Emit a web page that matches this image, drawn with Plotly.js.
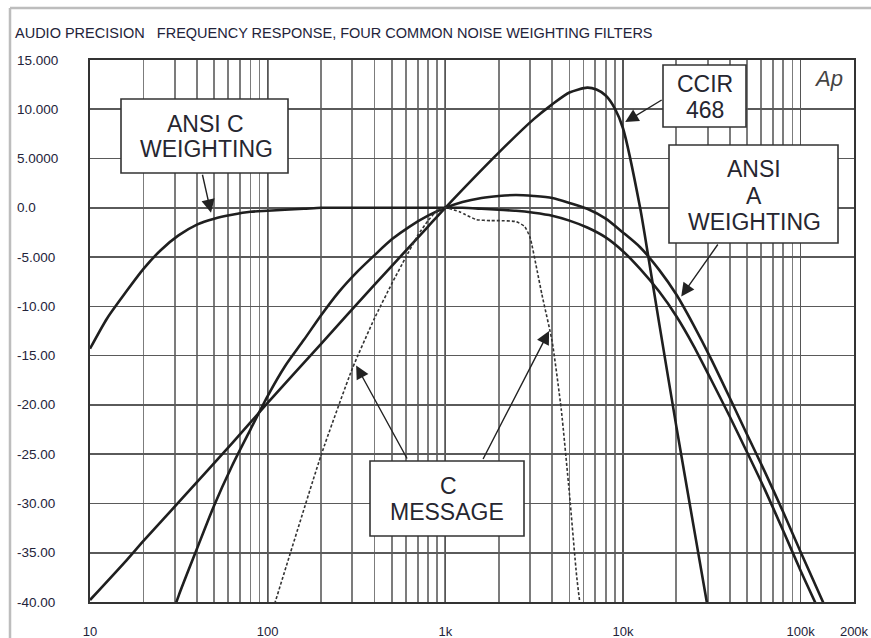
<!DOCTYPE html>
<html>
<head>
<meta charset="utf-8">
<script src="https://cdn.plot.ly/plotly-3.0.1.min.js"></script>
<style>html,body{margin:0;padding:0;background:#fff;overflow:hidden;}#chart{width:871px;height:638px;}</style>
</head>
<body>
<div id="chart"></div>
<script>
// ---------- data ----------
const cFreq = [10,12.5,16,20,25,31.5,40,50,63,80,100,125,160,200,250,315,400,500,630,800,1000,1250,1600,2000,2500,3150,4000,5000,6300,8000,10000,12500,16000,20000,25000,31500,40000,50000,63000,80000,100000,125000];
const cWeight = [-14.3,-11.2,-8.5,-6.2,-4.3,-2.8,-1.7,-1.1,-0.7,-0.4,-0.3,-0.2,-0.1,0,0,0,0,0,0,0,0,0,-0.1,-0.2,-0.3,-0.5,-0.8,-1.3,-2.0,-3.0,-4.4,-6.2,-8.5,-11.0,-14.0,-17.5,-21.2,-24.8,-28.6,-32.8,-36.8,-40.6];

const aFreq = [25,31.5,40,50,63,80,100,125,160,200,250,315,400,500,630,800,1000,1250,1600,2000,2500,3150,4000,5000,6300,8000,10000,12500,16000,20000,25000,31500,40000,50000,63000,80000,100000,125000,140000];
const aWeight = [-44.7,-39.4,-34.6,-30.2,-26.2,-22.5,-19.1,-16.1,-13.4,-10.9,-8.6,-6.6,-4.8,-3.2,-1.9,-0.8,0,0.6,1.0,1.2,1.3,1.2,1.0,0.5,-0.1,-1.1,-2.5,-4.0,-6.3,-8.8,-11.9,-15.4,-19.3,-23.0,-26.8,-30.9,-34.9,-38.8,-40.8];

const ccirFreq = [10,16,20,31.5,63,100,200,400,800,1000,2000,3150,4000,5000,6300,7100,8000,9000,10000,12500,14000,16000,20000,25000,31500];
const ccirWeight = [-39.8,-35.8,-33.8,-29.9,-23.9,-19.8,-13.8,-7.8,-1.9,0,5.6,9.0,10.5,11.7,12.2,12.0,11.4,10.1,8.1,0,-5.3,-11.7,-22.2,-32.3,-42.7];

const cmFreq = [60,100,200,300,400,500,600,700,800,900,1000,1200,1300,1500,1800,2000,2500,2800,3000,3300,3500,4000,4500,5000,5500,6000];
const cmWeight = [-55.7,-42.5,-25.1,-16.3,-11.2,-7.7,-5.0,-2.8,-1.3,-0.3,0,-0.4,-0.7,-1.2,-1.3,-1.3,-1.4,-1.9,-3.0,-6.5,-8.8,-13.6,-20.5,-29.0,-37.5,-43.0];

const xTickVals = [10,100,1000,10000,100000,200000];
const xTickText = ["10","100","1k","10k","100k","200k"];
const yTickVals = [15,10,5,0,-5,-10,-15,-20,-25,-30,-35,-40];
const yTickText = ["15.000","10.000","5.0000","0.0","-5.000","-10.00","-15.00","-20.00","-25.00","-30.00","-35.00","-40.00"];

const titleText = "AUDIO PRECISION\u00a0\u00a0\u00a0FREQUENCY RESPONSE, FOUR COMMON NOISE WEIGHTING FILTERS";

// ---------- layout helpers (pixel -> paper) ----------
const L = 90, R = 854, T = 60, B = 602;
const px = X => (X - L) / (R - L);
const py = Y => (B - Y) / (B - T);
const FONT = "Liberation Sans, Arial, sans-serif";

const curveLine = {color: "#1f1f1f", width: 2.6, shape: "spline", smoothing: 0.7};
const traces = [
  {x: cFreq, y: cWeight, name: "ANSI C", mode: "lines", line: curveLine},
  {x: aFreq, y: aWeight, name: "ANSI A", mode: "lines", line: curveLine},
  {x: ccirFreq, y: ccirWeight, name: "CCIR 468", mode: "lines", line: curveLine},
  {x: cmFreq, y: cmWeight, name: "C MESSAGE", mode: "lines",
   line: {color: "#333", width: 1.6, dash: "3px,2px", shape: "spline", smoothing: 0.5}}
];

// boxes (pixel rectangles) and text lines
const boxes = [
  [121, 99, 288, 173],
  [663, 65, 746, 127],
  [669, 145, 838, 243],
  [370, 461, 524, 536]
];
const boxLines = [
  ["ANSI C", 205, 124],
  ["WEIGHTING", 206, 149],
  ["CCIR", 705, 84],
  ["468", 705, 110],
  ["ANSI", 754, 169],
  ["A", 754, 196],
  ["WEIGHTING", 754, 222],
  ["C", 448, 486],
  ["MESSAGE", 447, 512]
];
// arrows: tip frequency, tip dB, tail offset in px
const arrows = [
  [48, -0.5, -9, -40],
  [10300, 8.7, 38, -23],
  [21300, -9.0, 38, -54],
  [315, -16.0, 52, 95],
  [3840, -12.5, -67, 130]
];

const shapes = boxes.map(b => ({
  type: "rect", xref: "paper", yref: "paper",
  x0: px(b[0]), x1: px(b[2]), y0: py(b[3]), y1: py(b[1]),
  fillcolor: "#fff", line: {color: "#333", width: 1.6}, layer: "above"
}));
// outer light frame: top and left edges only
shapes.push({type: "line", xref: "paper", yref: "paper",
  x0: px(10), x1: px(871), y0: py(8), y1: py(8),
  line: {color: "#bdbdbd", width: 2.5}, layer: "below"});
shapes.push({type: "line", xref: "paper", yref: "paper",
  x0: px(10), x1: px(10), y0: py(8), y1: py(638),
  line: {color: "#bdbdbd", width: 2.5}, layer: "below"});

const annotations = [];
boxLines.forEach(l => annotations.push({
  text: l[0], xref: "paper", yref: "paper", x: px(l[1]), y: py(l[2]),
  xanchor: "center", yanchor: "middle", showarrow: false,
  font: {family: FONT, size: 23, color: "#262630"}
}));
arrows.forEach(a => annotations.push({
  xref: "x", yref: "y", x: Math.log10(a[0]), y: a[1], ax: a[2], ay: a[3],
  showarrow: true, arrowhead: 2, arrowsize: 1.9, arrowwidth: 1.4, arrowcolor: "#222",
  standoff: 0, startstandoff: 0, font: {size: 1}
}));
yTickVals.forEach((v, i) => annotations.push({
  text: yTickText[i], xref: "paper", yref: "y", x: px(15), y: v,
  xanchor: "left", yanchor: "middle", showarrow: false,
  font: {family: FONT, size: 13.5, color: "#23233a"}
}));
annotations.push({
  text: "<i>Ap</i>", xref: "paper", yref: "paper", x: px(828), y: py(78),
  xanchor: "center", yanchor: "middle", showarrow: false,
  font: {family: FONT, size: 22, color: "#444"}
});

const layout = {
  width: 871, height: 638,
  margin: {l: L, r: 871 - R, t: T, b: 638 - B, pad: 0},
  paper_bgcolor: "#fff", plot_bgcolor: "#fff",
  showlegend: false,
  title: {text: titleText, xref: "container", yref: "container",
    x: 15 / 871, xanchor: "left", y: 1 - 33 / 638, yanchor: "middle",
    font: {family: FONT, size: 14.5, color: "#23233a"}},
  xaxis: {
    type: "log", range: [1, Math.log10(200000)],
    tickmode: "array", tickvals: xTickVals, ticktext: xTickText,
    showgrid: true, gridcolor: "#555", gridwidth: 1.5,
    minor: {dtick: "D1", showgrid: true, gridcolor: "#7c7c7c", gridwidth: 1.8, ticks: ""},
    showline: true, mirror: true, linecolor: "#333", linewidth: 2,
    ticks: "", zeroline: false, ticklabelstandoff: 16,
    tickfont: {family: FONT, size: 13, color: "#23233a"}
  },
  yaxis: {
    range: [-40, 15], tickmode: "linear", tick0: 0, dtick: 5,
    showgrid: true, gridcolor: "#5a5a5a", gridwidth: 1.6,
    showticklabels: false, zeroline: false,
    showline: true, mirror: true, linecolor: "#333", linewidth: 2, ticks: ""
  },
  shapes: shapes,
  annotations: annotations
};

Plotly.newPlot("chart", traces, layout, {displayModeBar: false, staticPlot: true});
</script>
</body>
</html>
